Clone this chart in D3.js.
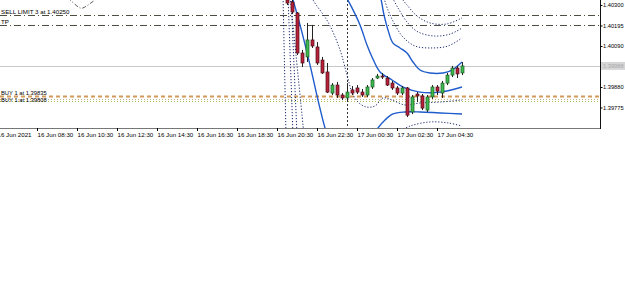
<!DOCTYPE html>
<html>
<head>
<meta charset="utf-8">
<script src="https://cdn.jsdelivr.net/npm/d3@7"></script>
<style>
body { margin: 0; background: #fff; }
text { font-family: "Liberation Sans", Arial, sans-serif; font-size: 6.2px; fill: #000; }
</style>
</head>
<body>
<svg width="625" height="288"></svg>
<script>
// M15 bars, first visible bar 16 Jun 21:00
const firstBarTime = '2021-06-16 21:00';
const opens  = [1.40326,1.40315,1.40259,1.40054,1.40034,1.40121,1.40085,1.40018,1.39957,1.39849,1.39890,1.39839,1.39824,1.39865,1.39875,1.39854,1.39839,1.39880,1.39926,1.39936,1.39926,1.39900,1.39875,1.39849,1.39875,1.39752,1.39844,1.39834,1.39762,1.39829,1.39880,1.39849,1.39900,1.39941,1.39977,1.39952];
const highs  = [1.40346,1.40326,1.40264,1.40070,1.40208,1.40198,1.40110,1.40034,1.40003,1.39900,1.39906,1.39849,1.39900,1.39885,1.39890,1.39870,1.39890,1.39926,1.39947,1.39952,1.39936,1.39911,1.39885,1.39885,1.39880,1.39839,1.39854,1.39844,1.39839,1.39890,1.39890,1.39911,1.39952,1.39988,1.39988,1.40008];
const lows   = [1.40300,1.40254,1.40044,1.39982,1.40008,1.40080,1.39993,1.39947,1.39849,1.39839,1.39824,1.39813,1.39803,1.39839,1.39844,1.39829,1.39829,1.39870,1.39921,1.39921,1.39885,1.39865,1.39839,1.39839,1.39726,1.39741,1.39803,1.39762,1.39752,1.39819,1.39839,1.39824,1.39890,1.39931,1.39926,1.39941];
const closes = [1.40310,1.40264,1.40054,1.40003,1.40121,1.40090,1.40003,1.39952,1.39854,1.39890,1.39839,1.39824,1.39854,1.39849,1.39854,1.39839,1.39880,1.39916,1.39936,1.39931,1.39890,1.39875,1.39849,1.39875,1.39736,1.39829,1.39834,1.39772,1.39829,1.39880,1.39859,1.39900,1.39941,1.39977,1.39947,1.39988];

// band lines as [bar index, price]
const bandMiddle = [[8,1.40500],[11.6,1.40351],[13,1.40285],[14.6,1.40198],[16,1.40095],[17,1.40034],[18.6,1.39957],[21,1.39916],[23.6,1.39875],[26.6,1.39854],[30.6,1.39854],[35,1.39880]];
const bandUpper = [[15,1.40600],[18.6,1.40351],[19.4,1.40249],[20.2,1.40172],[21.2,1.40105],[22.6,1.40080],[24,1.40054],[25.2,1.40008],[26.6,1.39967],[28.6,1.39952],[31.2,1.39952],[33,1.39967],[35,1.40008]];
const bandLower = [[0.6,1.40377],[1.2,1.40326],[2.6,1.40198],[4.6,1.39993],[6.2,1.39813],[7.6,1.39670],[9.6,1.39506],[12.6,1.39455],[15.6,1.39557],[18.2,1.39670],[19.6,1.39711],[21.2,1.39742],[23.6,1.39752],[26.6,1.39752],[30.6,1.39747],[35,1.39742]];
const dotInnerLower = [[4.6,1.40367],[5.2,1.40326],[8.2,1.40213],[10.6,1.40070],[12,1.39941],[13,1.39854],[14.2,1.39803],[15.8,1.39778],[17.6,1.39783],[19.2,1.39824],[21,1.39813],[23.6,1.39788],[26.6,1.39798],[30.6,1.39803],[35,1.39813]];
const dotUpper1 = [[19.2,1.40351],[20.2,1.40274],[21.6,1.40198],[23.2,1.40136],[25.6,1.40090],[29,1.40080],[32.2,1.40090],[35,1.40131]];
const dotUpper2 = [[20.8,1.40351],[22.2,1.40285],[24,1.40213],[26.2,1.40162],[29.6,1.40141],[32.6,1.40151],[35,1.40182]];
const dotUpper3 = [[22.4,1.40351],[24,1.40300],[26,1.40244],[28.6,1.40208],[32,1.40203],[35,1.40234]];
const dotLowerRight = [[22.2,1.39650],[24.6,1.39680],[28.6,1.39701],[32.2,1.39696],[35,1.39680]];
const dotSteep1 = [[-0.8,1.40351],[-0.2,1.39634]];
const dotSteep2 = [[0.2,1.40351],[1.2,1.39634]];
const dotSteep3 = [[0.8,1.40351],[2,1.39634]];
const dotSteep4 = [[0.6,1.40351],[1.8,1.40044],[3.4,1.39634]];
const dotFarLeft = [[-43.8,1.40336],[-41.4,1.40285],[-40.8,1.40285],[-38.4,1.40326]];

const separatorTime = '2021-06-17 00:00';

// order lines
const orderPrices = [1.40250, 1.40198];
const orderLabels = ['SELL LIMIT 3 at 1.40250', 'TP'];
const buyPrices = [1.39835, 1.39820, 1.39808];
const buyLabels = ['BUY 1 at 1.39835', '', 'BUY 1 at 1.39808'];
const bidPrice = 1.39988;

const priceTicks = [1.40300, 1.40195, 1.40090, 1.39985, 1.39880, 1.39775];
const timeTicks = ['2021-06-16 06:30','2021-06-16 08:30','2021-06-16 10:30','2021-06-16 12:30','2021-06-16 14:30','2021-06-16 16:30','2021-06-16 18:30','2021-06-16 20:30','2021-06-16 22:30','2021-06-17 00:30','2021-06-17 02:30','2021-06-17 04:30'];

const svg = d3.select('svg');
const parse = d3.utcParse('%Y-%m-%d %H:%M');
const plotW = 600, plotH = 128;

const x = d3.scaleUtc()
    .domain([parse('2021-06-16 08:30'), parse('2021-06-17 04:30')])
    .range([37, 437]);
const y = d3.scaleLinear().domain([1.39775, 1.40300]).range([107.5, 5]);

const t0 = +parse(firstBarTime);
const xi = i => x(new Date(t0 + i * 15 * 60000));

svg.append('clipPath').attr('id', 'plot')
    .append('rect').attr('x', 0).attr('y', 0).attr('width', plotW).attr('height', plotH);

const g = svg.append('g').attr('clip-path', 'url(#plot)');

// period separator
const sx = Math.round(x(parse(separatorTime))) + 0.5;
g.append('line').attr('x1', sx).attr('x2', sx).attr('y1', 0).attr('y2', plotH)
    .attr('stroke', '#333').attr('stroke-dasharray', '2,2');

// bid line
g.append('line').attr('x1', 0).attr('x2', plotW)
    .attr('y1', Math.round(y(bidPrice)) + 0.5).attr('y2', Math.round(y(bidPrice)) + 0.5)
    .attr('stroke', '#c8c8c8');

// sell limit / tp
orderPrices.forEach((p, k) => {
    const yy = Math.round(y(p)) + 0.5;
    g.append('line').attr('x1', 0).attr('x2', plotW).attr('y1', yy).attr('y2', yy)
        .attr('stroke', '#4d4d40').attr('stroke-dasharray', '7,3,1,3');
    svg.append('text').attr('x', 1).attr('y', yy - 2).text(orderLabels[k]);
});

// buy lines
const buyStyles = [
    { c: '#d39a5a', w: 2, dash: '4,3' },
    { c: '#c9b48c', w: 1, dash: '1,2' },
    { c: '#a4bd55', w: 1, dash: '1,2' }
];
buyPrices.forEach((p, k) => {
    const yy = Math.round(y(p)) + 0.5;
    g.append('line').attr('x1', 0).attr('x2', plotW).attr('y1', yy).attr('y2', yy)
        .attr('stroke', buyStyles[k].c).attr('stroke-width', buyStyles[k].w)
        .attr('stroke-dasharray', buyStyles[k].dash);
    if (buyLabels[k]) svg.append('text').attr('x', 1).attr('y', k === 0 ? yy - 2 : yy + 0.5)
        .style('font-size', '5.8px').text(buyLabels[k]);
});

// bands
const line = d3.line().x(d => xi(d[0])).y(d => y(d[1])).curve(d3.curveCatmullRom);
[bandMiddle, bandUpper, bandLower].forEach(b => {
    g.append('path').datum(b).attr('d', line).attr('fill', 'none')
        .attr('stroke', '#1f5ccc').attr('stroke-width', 1.4);
});
[dotInnerLower, dotUpper1, dotUpper2, dotUpper3, dotLowerRight, dotSteep1, dotSteep2, dotSteep3, dotSteep4].forEach(b => {
    g.append('path').datum(b).attr('d', line).attr('fill', 'none')
        .attr('stroke', '#1d2b6e').attr('stroke-dasharray', '1.2,1.8');
});
g.append('path').datum(dotFarLeft).attr('d', line).attr('fill', 'none')
    .attr('stroke', '#555').attr('stroke-dasharray', '4,2,1,2');

// candles
const bars = opens.map((o, i) => ({ i, o, h: highs[i], l: lows[i], c: closes[i] }));
const cg = g.selectAll('g.bar').data(bars).enter().append('g');
cg.append('line')
    .attr('x1', d => Math.round(xi(d.i)) + 0.5).attr('x2', d => Math.round(xi(d.i)) + 0.5)
    .attr('y1', d => y(d.h)).attr('y2', d => y(d.l))
    .attr('stroke', '#222');
cg.append('rect')
    .attr('x', d => Math.round(xi(d.i)) - 1)
    .attr('width', 3)
    .attr('y', d => y(Math.max(d.o, d.c)))
    .attr('height', d => Math.max(1, Math.abs(y(d.o) - y(d.c))))
    .attr('fill', d => d.c >= d.o ? '#3cba4e' : '#b8213a')
    .attr('stroke', d => d.c >= d.o ? '#1c5a25' : '#4a0d17')
    .attr('stroke-width', 0.7);

// axes
svg.append('line').attr('x1', 0).attr('x2', plotW).attr('y1', plotH + 0.5).attr('y2', plotH + 0.5)
    .attr('stroke', '#777');
svg.append('line').attr('x1', plotW + 0.5).attr('x2', plotW + 0.5).attr('y1', 0).attr('y2', plotH + 1)
    .attr('stroke', '#111');

const ya = svg.append('g').attr('transform', `translate(${plotW + 0.5},0)`)
    .call(d3.axisRight(y).tickValues(priceTicks).tickSize(2).tickFormat(d3.format('.5f')));
ya.select('.domain').remove();
ya.selectAll('text').attr('x', 2.5).style('font-size', '5.7px').style('font-family', 'Liberation Sans, Arial')
    .style('fill', '#000');

const fmtFirst = d3.utcFormat('%d %b %Y');
const fmt = d3.utcFormat('%d %b %H:%M');
const xa = svg.append('g').attr('transform', `translate(0,${plotH})`)
    .call(d3.axisBottom(x).tickValues(timeTicks.map(parse)).tickSize(3)
        .tickFormat((d, k) => k === 0 ? fmtFirst(d) : fmt(d)));
xa.select('.domain').remove();
xa.selectAll('text').attr('text-anchor', 'start').attr('x', 0).attr('y', 5)
    .style('font-size', '6.2px').style('font-family', 'Liberation Sans, Arial').style('fill', '#000');

// bid label box
const by = y(bidPrice);
svg.append('rect').attr('x', plotW + 1).attr('y', by - 4).attr('width', 24).attr('height', 8).attr('fill', '#d6d6d6');
svg.append('text').attr('x', plotW + 3).attr('y', by + 2).style('fill', '#a8a8a8').style('font-size', '5.7px')
    .text(d3.format('.5f')(bidPrice));
</script>
</body>
</html>
